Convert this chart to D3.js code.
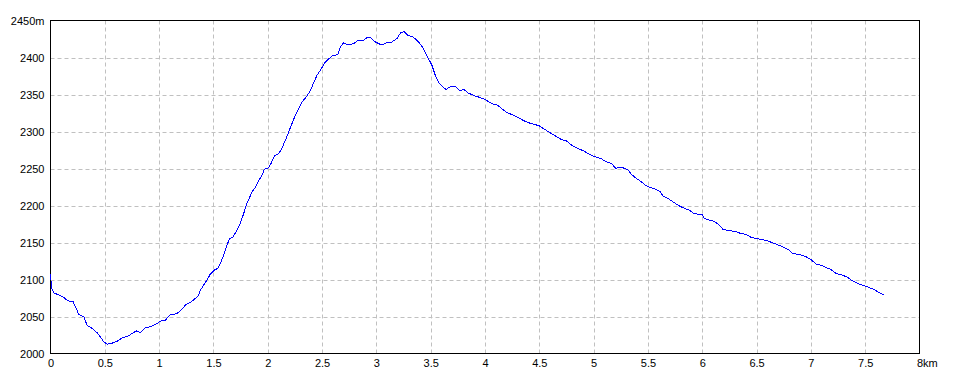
<!DOCTYPE html>
<html lang="ja">
<head>
<meta charset="UTF-8">
<script src="https://cdn.jsdelivr.net/npm/d3@7"></script>
<style>
    body { margin: 0; background: #fff; }
    svg text { font-family: "Liberation Sans", Arial, sans-serif; font-size: 11px; fill: #000; }
</style>
</head>
<body>
<svg width="960" height="384"></svg>
<script>
    // distance (km) and elevation (m), read from the profile
    var distKm = [0, 0.01, 0.03, 0.077, 0.12, 0.153, 0.184, 0.208, 0.23, 0.26, 0.307, 0.337, 0.383, 0.43, 0.46, 0.49,
        0.52, 0.56, 0.613, 0.66, 0.72, 0.75, 0.79, 0.83, 0.874, 0.92, 0.98, 1.027, 1.057, 1.097, 1.14, 1.18,
        1.21, 1.25, 1.287, 1.333, 1.364, 1.38, 1.41, 1.44, 1.47, 1.508, 1.539, 1.563, 1.594, 1.618, 1.649, 1.68,
        1.716, 1.747, 1.778, 1.808, 1.833, 1.856, 1.887, 1.917, 1.948, 1.969, 2.009, 2.031, 2.061, 2.101, 2.132,
        2.162, 2.193, 2.224, 2.254, 2.285, 2.316, 2.356, 2.392, 2.423, 2.454, 2.49, 2.53, 2.561, 2.592, 2.644,
        2.668, 2.699, 2.73, 2.775, 2.806, 2.821, 2.877, 2.913, 2.944, 2.99, 3.051, 3.097, 3.143, 3.19, 3.226,
        3.257, 3.288, 3.336, 3.389, 3.434, 3.471, 3.511, 3.542, 3.57, 3.601, 3.641, 3.684, 3.724, 3.77, 3.807,
        3.846, 3.908, 3.954, 4.003, 4.046, 4.082, 4.107, 4.153, 4.199, 4.245, 4.291, 4.352, 4.398, 4.444, 4.5,
        4.536, 4.597, 4.659, 4.705, 4.75, 4.797, 4.842, 4.904, 4.965, 5.011, 5.072, 5.118, 5.164, 5.204, 5.235,
        5.27, 5.318, 5.348, 5.394, 5.44, 5.485, 5.531, 5.577, 5.613, 5.638, 5.684, 5.73, 5.776, 5.822, 5.883,
        5.914, 5.96, 5.997, 6.021, 6.067, 6.104, 6.144, 6.19, 6.236, 6.297, 6.358, 6.404, 6.45, 6.496, 6.557,
        6.603, 6.649, 6.695, 6.741, 6.803, 6.833, 6.895, 6.956, 7.002, 7.048, 7.094, 7.14, 7.186, 7.232, 7.293,
        7.339, 7.385, 7.431, 7.477, 7.538, 7.584, 7.63, 7.678];
    var elevM = [2108, 2088, 2082, 2079, 2076, 2072, 2070, 2070, 2063, 2053, 2049.5, 2038, 2034, 2028, 2022, 2016,
        2012.6, 2013.5, 2016.6, 2021, 2024, 2027, 2030.5, 2028.4, 2035, 2036, 2040.5, 2045, 2045, 2052, 2053, 2055.4,
        2060, 2066.6, 2069, 2074.3, 2078.8, 2085.5, 2092.3, 2099, 2107, 2112.6, 2115, 2121.6, 2132.8, 2144, 2155.4, 2157.6,
        2166.6, 2175.7, 2189, 2202.7, 2211, 2218.5, 2225, 2234, 2241, 2249, 2251, 2257, 2267, 2270, 2278,
        2288, 2299.5, 2311, 2322, 2331, 2340, 2347, 2355, 2366, 2376, 2384, 2394, 2398, 2402, 2404,
        2414, 2420, 2417.6, 2418, 2420, 2422.5, 2422.5, 2427, 2427, 2421, 2416.7, 2420, 2421, 2425.7, 2434,
        2434.7, 2430, 2428, 2421, 2412, 2401, 2389.6, 2376, 2367, 2361.7, 2356.8, 2361, 2361, 2355, 2356.8,
        2352, 2348, 2346, 2343, 2339, 2336.5, 2336.5, 2331, 2325.7, 2323, 2320, 2315, 2312, 2310, 2307.7,
        2304, 2298.6, 2293, 2289, 2287.4, 2281.5, 2278, 2274, 2269, 2266, 2263, 2259, 2257, 2250, 2252,
        2251, 2247.7, 2242, 2236.5, 2232, 2226.6, 2224, 2221.6, 2218.5, 2213, 2209.5, 2205, 2200.5, 2197, 2193.7,
        2190, 2188, 2188, 2182.4, 2180, 2179, 2175, 2168, 2166, 2165.3, 2162, 2161, 2157, 2155.4, 2154,
        2152, 2149.5, 2147, 2144, 2139.6, 2135, 2134, 2130.6, 2127, 2120.7, 2119.4, 2116, 2113.5, 2108, 2105.9,
        2102.7, 2098, 2094.6, 2092.3, 2089, 2086.5, 2082, 2078.6];
    var xTicks = [0, 0.5, 1, 1.5, 2, 2.5, 3, 3.5, 4, 4.5, 5, 5.5, 6, 6.5, 7, 7.5, 8];
    var yTicks = [2000, 2050, 2100, 2150, 2200, 2250, 2300, 2350, 2400, 2450];

    var svg = d3.select("svg");
    var plot = {left: 50.5, top: 20.5, right: 919.5, bottom: 353.5};

    var x = d3.scaleLinear().domain([0, 8]).range([plot.left, plot.right]);
    var y = d3.scaleLinear().domain([2000, 2450]).range([plot.bottom, plot.top]);

    // grid
    svg.append("g").selectAll("line")
        .data(xTicks.slice(1, -1))
        .enter().append("line")
        .attr("x1", function (d) { return Math.round(x(d)) + 0.5; })
        .attr("x2", function (d) { return Math.round(x(d)) + 0.5; })
        .attr("y1", plot.top).attr("y2", plot.bottom)
        .attr("stroke", "#c0c0c0").attr("stroke-dasharray", "4,3");
    svg.append("g").selectAll("line")
        .data(yTicks.slice(1, -1))
        .enter().append("line")
        .attr("y1", function (d) { return Math.round(y(d)) + 0.5; })
        .attr("y2", function (d) { return Math.round(y(d)) + 0.5; })
        .attr("x1", plot.left).attr("x2", plot.right)
        .attr("stroke", "#c0c0c0").attr("stroke-dasharray", "4,3");

    // frame
    svg.append("rect")
        .attr("x", plot.left).attr("y", plot.top)
        .attr("width", plot.right - plot.left).attr("height", plot.bottom - plot.top)
        .attr("fill", "none").attr("stroke", "#000");

    // axes labels
    var xAxis = svg.append("g")
        .attr("transform", "translate(0," + plot.bottom + ")")
        .call(d3.axisBottom(x).tickValues(xTicks).tickSize(0).tickPadding(6)
            .tickFormat(function (d) { return d; }));
    xAxis.select(".domain").remove();
    xAxis.selectAll("text").style("font-size", "11px").style("font-family", "Liberation Sans, Arial, sans-serif");
    xAxis.selectAll(".tick").filter(function (d) { return d === 8; }).select("text")
        .attr("text-anchor", "start").attr("dx", "-3").text("8km");

    var yAxis = svg.append("g")
        .attr("transform", "translate(" + (plot.left - 6) + ",0)")
        .call(d3.axisLeft(y).tickValues(yTicks).tickSize(0).tickPadding(0)
            .tickFormat(function (d) { return d === 2450 ? d + "m" : d; }));
    yAxis.select(".domain").remove();
    yAxis.selectAll("text").style("font-size", "11px").style("font-family", "Liberation Sans, Arial, sans-serif");

    // profile
    var line = d3.line()
        .x(function (d, i) { return x(distKm[i]); })
        .y(function (d) { return y(d); });
    svg.append("path")
        .datum(elevM)
        .attr("d", line)
        .attr("fill", "none")
        .attr("stroke", "#0000ff")
        .attr("stroke-width", 1)
        .attr("shape-rendering", "crispEdges");
</script>
</body>
</html>
